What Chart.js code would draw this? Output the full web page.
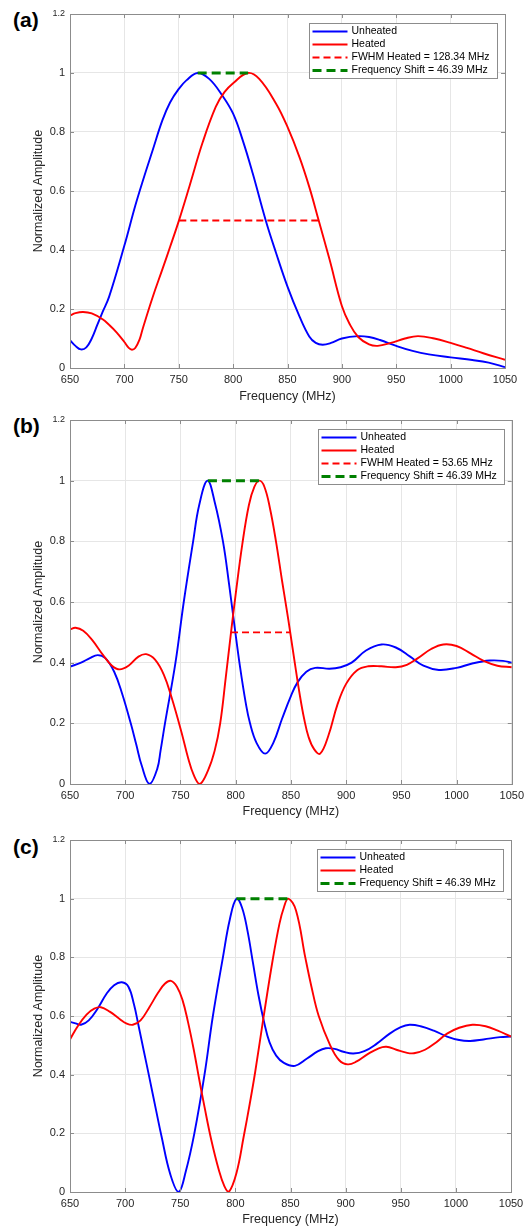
<!DOCTYPE html>
<html lang="en">
<head>
<meta charset="UTF-8"/>
<title>Unheated vs Heated spectra</title>
<script src="https://cdn.jsdelivr.net/npm/chart.js"></script>
<style>
    body { margin: 0; width: 529px; height: 1227px; background: #fff; position: relative; overflow: hidden;
           font-family: "Liberation Sans", Arial, sans-serif; }
    canvas { position: absolute; left: 0; }
    .tag { position: absolute; left: 13px; font-weight: bold; font-size: 21px; color: #000; line-height: 1; }
</style>
</head>
<body>
    <div class="tag" style="top:9px">(a)</div>
    <div class="tag" style="top:415px">(b)</div>
    <div class="tag" style="top:836px">(c)</div>
    <canvas id="chartA" width="529" height="405" style="top:0"></canvas>
    <canvas id="chartB" width="529" height="415" style="top:405px"></canvas>
    <canvas id="chartC" width="529" height="407" style="top:820px"></canvas>
<script>
// axis ticks
const xTicks = [650, 700, 750, 800, 850, 900, 950, 1000, 1050];
const yTicks = [0, 0.2, 0.4, 0.6, 0.8, 1, 1.2];

// (a)
const freqUnheatedA = [650,655,660,665,670,675,680,686,700,710,717,726,735,742,750,757,767.4,778,790,800,809,818,830,839.5,850,861,870,876,882.4,890,900,915,925,935,950,965,980,1000,1020,1035,1050];
const ampUnheatedA  = [0.094,0.075,0.063,0.07,0.10,0.145,0.19,0.242,0.415,0.55,0.635,0.738,0.84,0.90,0.946,0.975,1.00,0.98,0.924,0.862,0.77,0.66,0.50,0.39,0.276,0.175,0.107,0.085,0.079,0.085,0.10,0.108,0.105,0.095,0.075,0.058,0.046,0.036,0.027,0.018,0.003];
const freqHeatedA = [650,655,662,670,680,686,693,700,704,707,710,714,717,726,735,742,750,760,772,784,792,800,813.4,824,839.5,850,861,870,878.7,888.5,900,907,915,925,933,945,958,970,985,1000,1015,1030,1050];
const ampHeatedA  = [0.178,0.186,0.19,0.185,0.165,0.146,0.12,0.088,0.068,0.062,0.068,0.097,0.135,0.24,0.335,0.41,0.498,0.618,0.765,0.885,0.935,0.965,1.00,0.98,0.896,0.817,0.715,0.614,0.50,0.37,0.21,0.15,0.105,0.08,0.075,0.085,0.10,0.108,0.10,0.085,0.068,0.05,0.028];
const fwhmA = [750.5, 878.84];
const shiftA = [767.4, 813.79];

// (b)
const freqUnheatedB = [650,660,668,675,682,690,697,705,710,715,722,729,732,736,745.5,753,761.5,767,774.5,781,788.5,794,799,804,809,813,819,826.7,834,842,850,856,864,872,885,895,905,918,932,945,958,970,984,1000,1015,1030,1042,1050];
const ampUnheatedB  = [0.387,0.40,0.415,0.425,0.415,0.37,0.30,0.20,0.13,0.06,0.00,0.05,0.11,0.20,0.40,0.60,0.80,0.92,1.00,0.93,0.80,0.66,0.52,0.385,0.27,0.20,0.135,0.10,0.135,0.215,0.29,0.335,0.37,0.383,0.38,0.385,0.40,0.44,0.46,0.45,0.42,0.39,0.376,0.383,0.398,0.407,0.406,0.40];
const freqHeatedB = [650,655,662,670,680,688,695,703,712,719,727,735,742,751,757,762,767.5,775,781,786,791,795.8,800,806,812,817,821.5,826,831,836.5,842,846,849.4,853.5,858,862,866,871,876.5,884,892,900,910,920,932,945,955,965,977,988,1000,1013,1025,1037,1050];
const ampHeatedB  = [0.51,0.515,0.505,0.475,0.425,0.39,0.378,0.39,0.42,0.428,0.41,0.36,0.285,0.17,0.085,0.03,0.00,0.045,0.11,0.20,0.35,0.50,0.625,0.79,0.92,0.98,1.00,0.98,0.91,0.80,0.67,0.58,0.50,0.40,0.295,0.215,0.155,0.115,0.10,0.16,0.26,0.33,0.375,0.388,0.388,0.385,0.393,0.415,0.445,0.46,0.455,0.43,0.405,0.39,0.385];
const fwhmB = [795.8, 849.45];
const shiftB = [774.9, 821.29];

// (c)
const freqUnheatedC = [650,655,660,667,675,683,690,697,703,708,712,717,722,728,733,741,748.5,755,762.8,772,779.6,788.7,795,801,806,811,816,821,826,831,837,844,854,865,875,882,890,898,907,917,928,940,950,958,968,980,992,1003,1013,1025,1040,1050];
const ampUnheatedC  = [0.58,0.575,0.57,0.585,0.625,0.675,0.705,0.715,0.70,0.64,0.57,0.48,0.39,0.28,0.19,0.06,0.00,0.07,0.20,0.40,0.60,0.80,0.93,1.00,0.97,0.89,0.78,0.67,0.58,0.51,0.465,0.44,0.43,0.455,0.48,0.49,0.488,0.478,0.472,0.48,0.505,0.54,0.562,0.57,0.565,0.55,0.53,0.518,0.515,0.52,0.528,0.53];
const freqHeatedC = [650,657,665,672,678,686,695,701,707,714,722,730,736,741.5,747,752,757,762,767.4,772,778,785,790,794,801,807.6,813,818,825.3,833.8,840,844,848,855,863.4,869,875.6,886,894,902,910,920,930,937,946,955,962,972,982,992,1003,1015,1027,1038,1050];
const ampHeatedC  = [0.52,0.565,0.605,0.625,0.63,0.615,0.59,0.575,0.57,0.585,0.63,0.68,0.71,0.72,0.70,0.655,0.58,0.49,0.38,0.29,0.18,0.075,0.02,0.00,0.065,0.19,0.30,0.41,0.59,0.79,0.915,0.97,1.00,0.96,0.80,0.70,0.60,0.50,0.45,0.435,0.445,0.47,0.49,0.495,0.485,0.475,0.473,0.485,0.51,0.54,0.56,0.57,0.565,0.55,0.53];
const shiftC = [801, 847.39];

Chart.defaults.font.family = '"Liberation Sans", Arial, sans-serif';
Chart.defaults.color = '#262626';

const BLUE = '#0000ff', RED = '#ff0000', GREEN = '#008000', AXIS = '#8c8c8c', GRID = '#e6e6e6';

function curve(label, xs, ys, color, order) {
    return {
        label, order,
        data: xs.map((x, i) => ({ x, y: ys[i] })),
        borderColor: color, backgroundColor: color, borderWidth: 1.9,
        pointRadius: 0, tension: 0.4, fill: false
    };
}

function level(label, xs, y, color, dash, width, order) {
    return {
        label, order,
        data: xs.map(x => ({ x, y })),
        borderColor: color, backgroundColor: color, borderWidth: width, borderDash: dash,
        pointRadius: 0, tension: 0, fill: false
    };
}

// box round the axes, inward ticks and the legend in the upper right corner
const matlabAxes = {
    id: 'matlabAxes',
    afterDatasetsDraw(chart) {
        const { ctx, chartArea: a, scales } = chart;
        ctx.save();
        ctx.strokeStyle = AXIS;
        ctx.lineWidth = 1;
        ctx.beginPath();
        xTicks.forEach(v => {
            const px = Math.round(scales.x.getPixelForValue(v)) + 0.5;
            ctx.moveTo(px, a.bottom); ctx.lineTo(px, a.bottom - 4);
            ctx.moveTo(px, a.top); ctx.lineTo(px, a.top + 4);
        });
        yTicks.forEach(v => {
            const py = Math.round(scales.y.getPixelForValue(v)) + 0.5;
            ctx.moveTo(a.left, py); ctx.lineTo(a.left + 4, py);
            ctx.moveTo(a.right, py); ctx.lineTo(a.right - 4, py);
        });
        ctx.stroke();
        ctx.strokeRect(Math.round(a.left) + 0.5, Math.round(a.top) + 0.5,
                       Math.round(a.right - a.left), Math.round(a.bottom - a.top));
        ctx.restore();
    },
    afterDraw(chart, args, opts) {
        const { ctx, chartArea: a } = chart;
        const items = chart.data.datasets;
        const rowH = 13, lineLen = 35;
        ctx.save();
        ctx.font = '10.5px "Liberation Sans", Arial, sans-serif';
        const textW = Math.max(...items.map(d => ctx.measureText(d.label).width));
        const w = Math.round(3 + lineLen + 4 + textW + 8);
        const h = items.length * rowH + 3;
        const x0 = Math.round(a.right - opts.gapRight - w) + 0.5;
        const y0 = Math.round(a.top + opts.gapTop) + 0.5;
        ctx.fillStyle = '#fff';
        ctx.fillRect(x0, y0, w, h);
        ctx.strokeStyle = AXIS;
        ctx.lineWidth = 1;
        ctx.strokeRect(x0, y0, w, h);
        items.forEach((d, i) => {
            const cy = y0 + 1.5 + rowH * (i + 0.5);
            ctx.beginPath();
            ctx.setLineDash(d.borderDash || []);
            ctx.strokeStyle = d.borderColor;
            ctx.lineWidth = d.borderWidth;
            ctx.moveTo(x0 + 3, cy);
            ctx.lineTo(x0 + 3 + lineLen, cy);
            ctx.stroke();
            ctx.setLineDash([]);
            ctx.fillStyle = '#000';
            ctx.textBaseline = 'middle';
            ctx.textAlign = 'left';
            ctx.fillText(d.label, x0 + 3 + lineLen + 4, cy);
        });
        ctx.restore();
    }
};

function makeChart(id, datasets, padTop, padRight, xAxisH, titleBottom) {
    return new Chart(document.getElementById(id), {
        type: 'line',
        data: { datasets },
        options: {
            responsive: false,
            animation: false,
            devicePixelRatio: 1,
            layout: { padding: { top: padTop, right: padRight, left: 0, bottom: 0 } },
            plugins: {
                legend: { display: false },
                tooltip: { enabled: false },
                matlabAxes: { gapTop: 9, gapRight: 8 }
            },
            scales: {
                x: {
                    type: 'linear', min: 650, max: 1050,
                    afterBuildTicks: s => { s.ticks = xTicks.map(v => ({ value: v })); },
                    afterFit: s => { s.height = xAxisH; },
                    ticks: { font: { size: 11 }, padding: 5, maxRotation: 0, autoSkip: false, callback: v => String(v) },
                    grid: { color: GRID, drawTicks: false },
                    border: { color: AXIS },
                    title: { display: true, text: 'Frequency (MHz)', font: { size: 12.5 }, padding: { top: 0, bottom: titleBottom } }
                },
                y: {
                    min: 0, max: 1.2,
                    afterBuildTicks: s => { s.ticks = yTicks.map(v => ({ value: v })); },
                    afterFit: s => { s.width = 70; },
                    ticks: {
                        font: c => ({ size: c.tick && c.tick.value === 1.2 ? 9 : 11 }),
                        padding: 5, callback: v => String(v)
                    },
                    grid: { color: GRID, drawTicks: false },
                    border: { color: AXIS },
                    title: { display: true, text: 'Normalized Amplitude', font: { size: 12.5 }, padding: { top: 31.5, bottom: 0 } }
                }
            }
        },
        plugins: [matlabAxes]
    });
}

makeChart('chartA', [
    curve('Unheated', freqUnheatedA, ampUnheatedA, BLUE, 4),
    curve('Heated', freqHeatedA, ampHeatedA, RED, 3),
    level('FWHM Heated = 128.34 MHz', fwhmA, 0.5, RED, [7, 4], 1.8, 2),
    level('Frequency Shift = 46.39 MHz', shiftA, 1, GREEN, [9, 5], 3, 1)
], 14, 24, 37, 0.5);

makeChart('chartB', [
    curve('Unheated', freqUnheatedB, ampUnheatedB, BLUE, 4),
    curve('Heated', freqHeatedB, ampHeatedB, RED, 3),
    level('FWHM Heated = 53.65 MHz', fwhmB, 0.5, RED, [7, 4], 1.8, 2),
    level('Frequency Shift = 46.39 MHz', shiftB, 1, GREEN, [9, 5], 3, 1)
], 15, 14, 36, 1);

makeChart('chartC', [
    curve('Unheated', freqUnheatedC, ampUnheatedC, BLUE, 4),
    curve('Heated', freqHeatedC, ampHeatedC, RED, 3),
    level('Frequency Shift = 46.39 MHz', shiftC, 1, GREEN, [9, 5], 3, 1)
], 20, 18, 35, 0);
</script>
</body>
</html>
